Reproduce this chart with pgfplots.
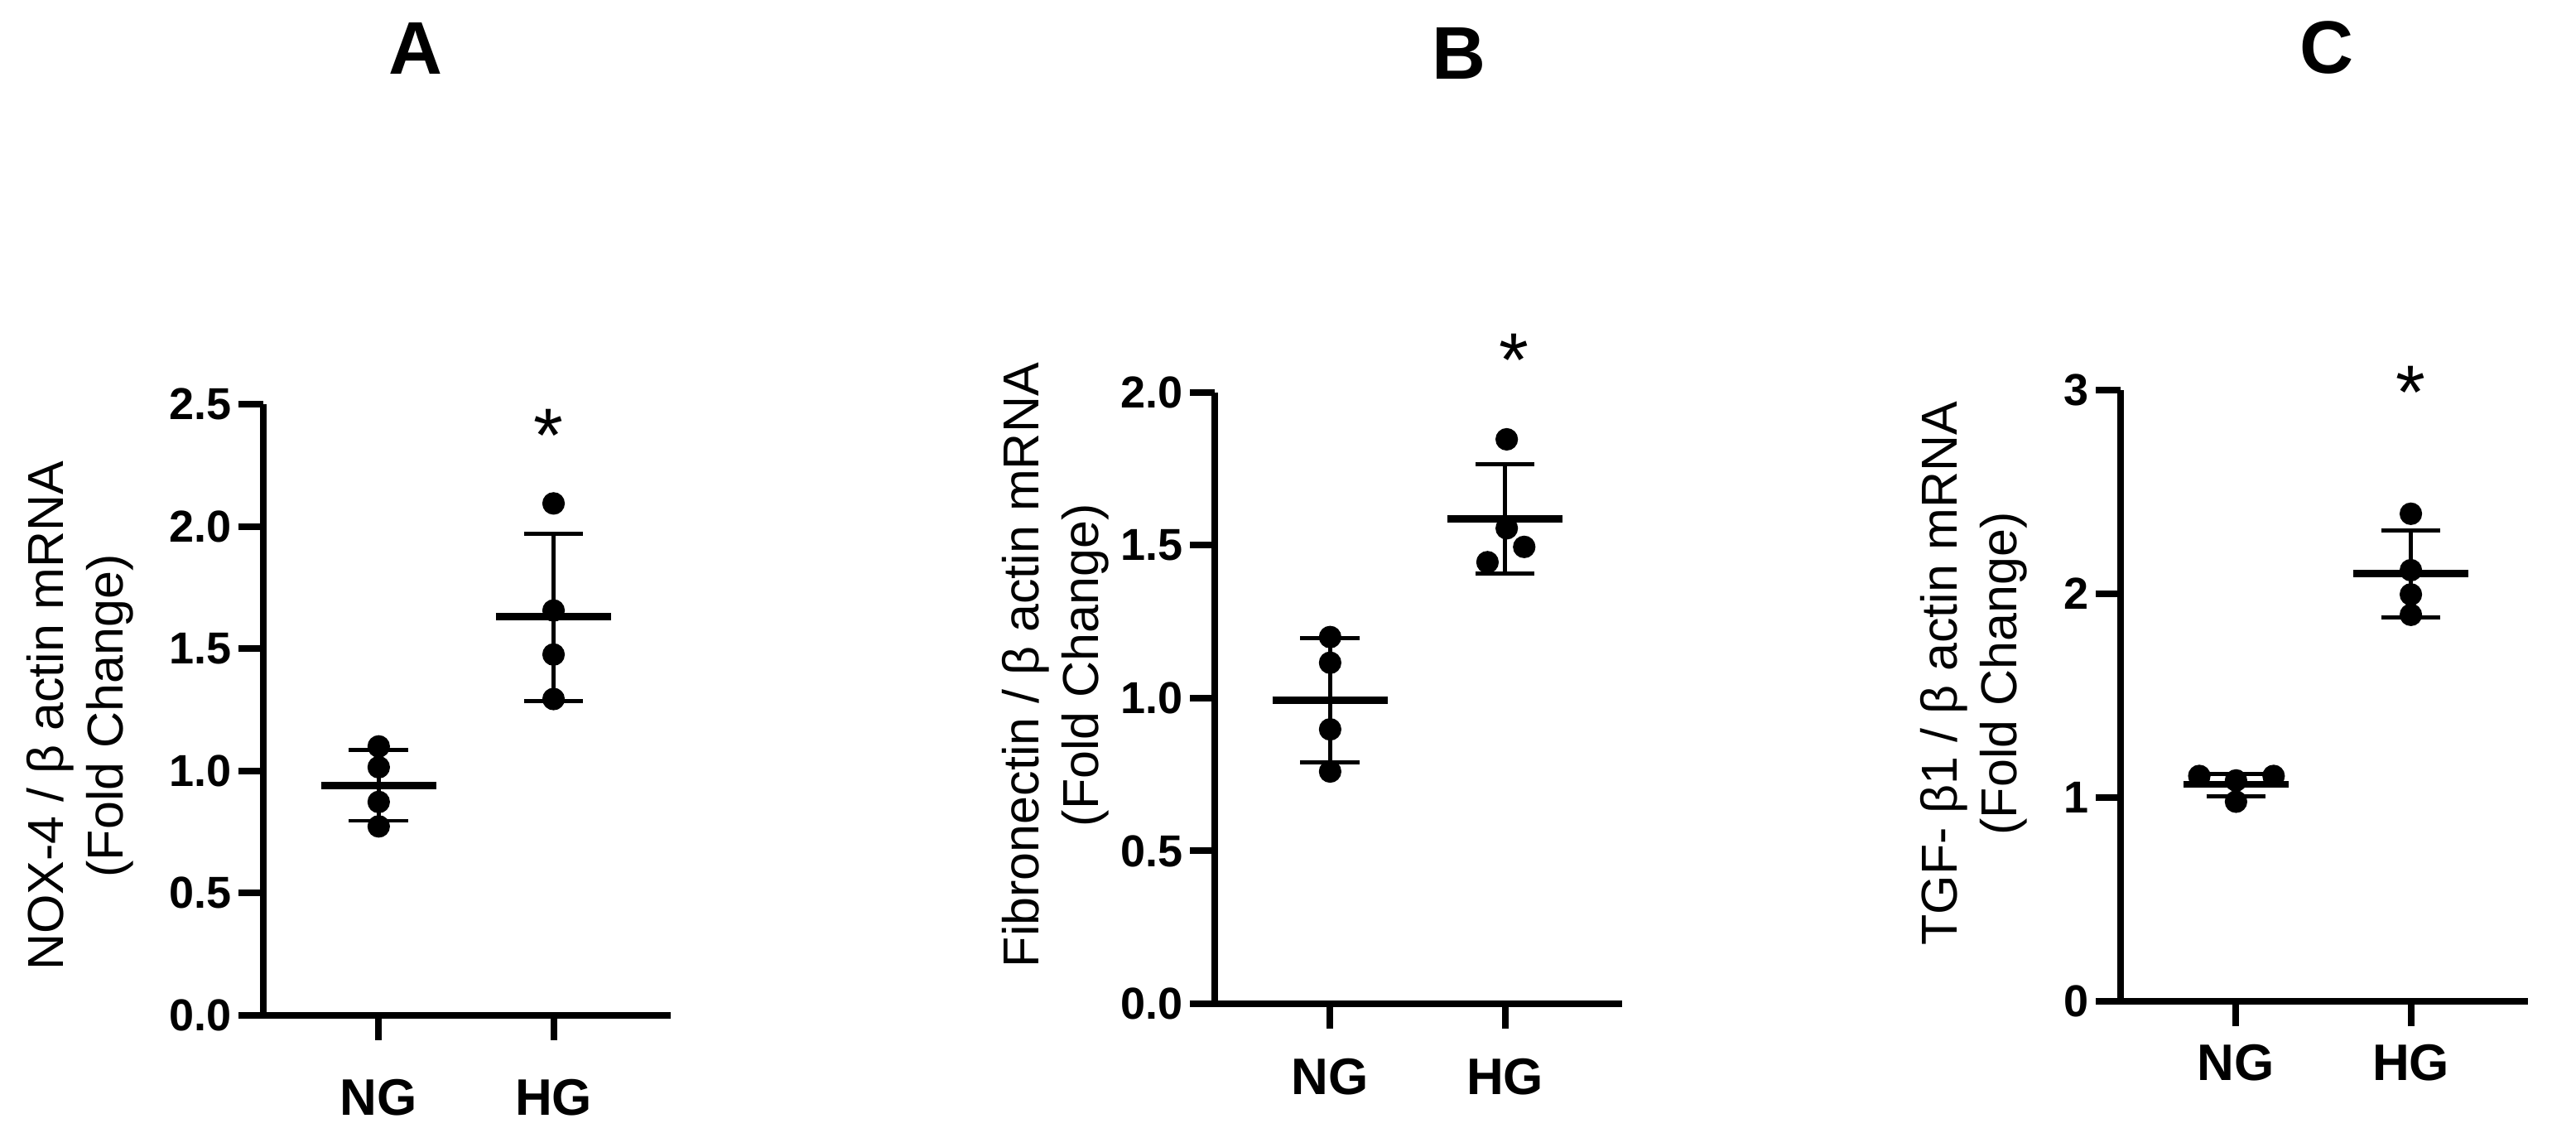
\documentclass[border=0pt]{standalone}
\usepackage{fontspec}
\setmainfont{Liberation Sans}
\usepackage{pgfplots}
\pgfplotsset{compat=1.18}

\pgfplotsset{
  panel/.style={
    scale only axis, width=123pt, height=184.5pt,
    xmin=0.34, xmax=2.67, ymin=0,
    axis x line=bottom, axis y line=left,
    axis line style={line width=2pt, -},
    major tick style={line width=2pt, black},
    major tick length=7.5pt,
    tick align=outside,
    xtick={1,2}, xticklabels={NG,HG},
    x tick label style={font=\bfseries\fontsize{15.5}{15.5}\selectfont, anchor=center},
    y tick label style={font=\bfseries\fontsize{13.5}{13.5}\selectfont, inner sep=2pt},
    ylabel style={font=\fontsize{15.25}{18}\selectfont, align=center, anchor=center},
    clip=false,
    anchor=south west,
  },
  pts/.style={only marks, mark=*, mark size=3.2pt, black},
  meanln/.style={black, line width=2.2pt, mark=none},
  errln/.style={black, line width=1.2pt, mark=none},
}
\newcommand{\signif}[1]{\node[font=\fontsize{23}{23}\selectfont, inner sep=0pt, anchor=north] at (axis cs:#1) {*};}

\begin{document}
\begin{tikzpicture}
\path[use as bounding box] (0,0) rectangle (777.75pt,342pt);

\node[font=\bfseries\fontsize{22.5}{22.5}\selectfont] at (125.5pt,327.25pt) {A};
\node[font=\bfseries\fontsize{22.5}{22.5}\selectfont] at (440.5pt,325.75pt) {B};
\node[font=\bfseries\fontsize{22.5}{22.5}\selectfont] at (702.5pt,327.5pt) {C};

% A: NOX-4
\begin{axis}[panel, at={(79.5pt,35.5pt)}, ymax=2.5,
  ytick={0,0.5,1,1.5,2,2.5}, yticklabels={0.0,0.5,1.0,1.5,2.0,2.5},
  x tick label style={yshift=-17.25pt},
  ylabel={NOX-4 / β actin mRNA\\(Fold Change)},
  ylabel style={at={(axis description cs:-0.45,0.49)}}]
\addplot[errln] coordinates {(1,0.796) (1,1.085)};
\addplot[errln] coordinates {(0.83,0.796) (1.17,0.796)};
\addplot[errln] coordinates {(0.83,1.085) (1.17,1.085)};
\addplot[meanln] coordinates {(0.67,0.94) (1.33,0.94)};
\addplot[pts] coordinates {(1,1.100) (1,1.015) (1,0.873) (1,0.773)};
\addplot[errln] coordinates {(2,1.286) (2,1.970)};
\addplot[errln] coordinates {(1.83,1.286) (2.17,1.286)};
\addplot[errln] coordinates {(1.83,1.970) (2.17,1.970)};
\addplot[meanln] coordinates {(1.67,1.63) (2.33,1.63)};
\addplot[pts] coordinates {(2,2.094) (2,1.656) (2,1.476) (2,1.294)};
\signif{1.97,2.48}
\end{axis}

% B: Fibronectin
\begin{axis}[panel, at={(366.75pt,39pt)}, ymax=2,
  ytick={0,0.5,1,1.5,2}, yticklabels={0.0,0.5,1.0,1.5,2.0},
  x tick label style={yshift=-14.5pt},
  ylabel={Fibronectin / β actin mRNA\\(Fold Change)},
  ylabel style={at={(axis description cs:-0.39,0.554)}}]
\addplot[errln] coordinates {(1,0.789) (1,1.196)};
\addplot[errln] coordinates {(0.83,0.789) (1.17,0.789)};
\addplot[errln] coordinates {(0.83,1.196) (1.17,1.196)};
\addplot[meanln] coordinates {(0.67,0.993) (1.33,0.993)};
\addplot[pts] coordinates {(1,1.200) (1,1.116) (1,0.898) (1,0.760)};
\addplot[errln] coordinates {(2,1.408) (2,1.765)};
\addplot[errln] coordinates {(1.83,1.408) (2.17,1.408)};
\addplot[errln] coordinates {(1.83,1.765) (2.17,1.765)};
\addplot[meanln] coordinates {(1.67,1.586) (2.33,1.586)};
\addplot[pts] coordinates {(2.01,1.847) (2.01,1.556) (2.11,1.495) (1.90,1.445)};
\signif{2.05,2.195}
\end{axis}

% C: TGF-b1
\begin{axis}[panel, at={(640.25pt,39.75pt)}, ymax=3,
  ytick={0,1,2,3}, yticklabels={0,1,2,3},
  x tick label style={yshift=-11pt},
  ylabel={TGF- β1 / β actin mRNA\\(Fold Change)},
  ylabel style={at={(axis description cs:-0.36,0.536)}}]
\addplot[errln] coordinates {(1,1.005) (1,1.115)};
\addplot[errln] coordinates {(0.83,1.005) (1.17,1.005)};
\addplot[errln] coordinates {(0.83,1.115) (1.17,1.115)};
\addplot[meanln] coordinates {(0.70,1.065) (1.30,1.065)};
\addplot[pts] coordinates {(0.79,1.106) (1,1.084) (1.215,1.106) (1,0.980)};
\addplot[errln] coordinates {(2,1.884) (2,2.311)};
\addplot[errln] coordinates {(1.83,1.884) (2.17,1.884)};
\addplot[errln] coordinates {(1.83,2.311) (2.17,2.311)};
\addplot[meanln] coordinates {(1.67,2.10) (2.33,2.10)};
\addplot[pts] coordinates {(2,2.393) (2,2.116) (2,1.997) (2,1.897)};
\signif{2.0,3.12}
\end{axis}
\end{tikzpicture}
\end{document}
